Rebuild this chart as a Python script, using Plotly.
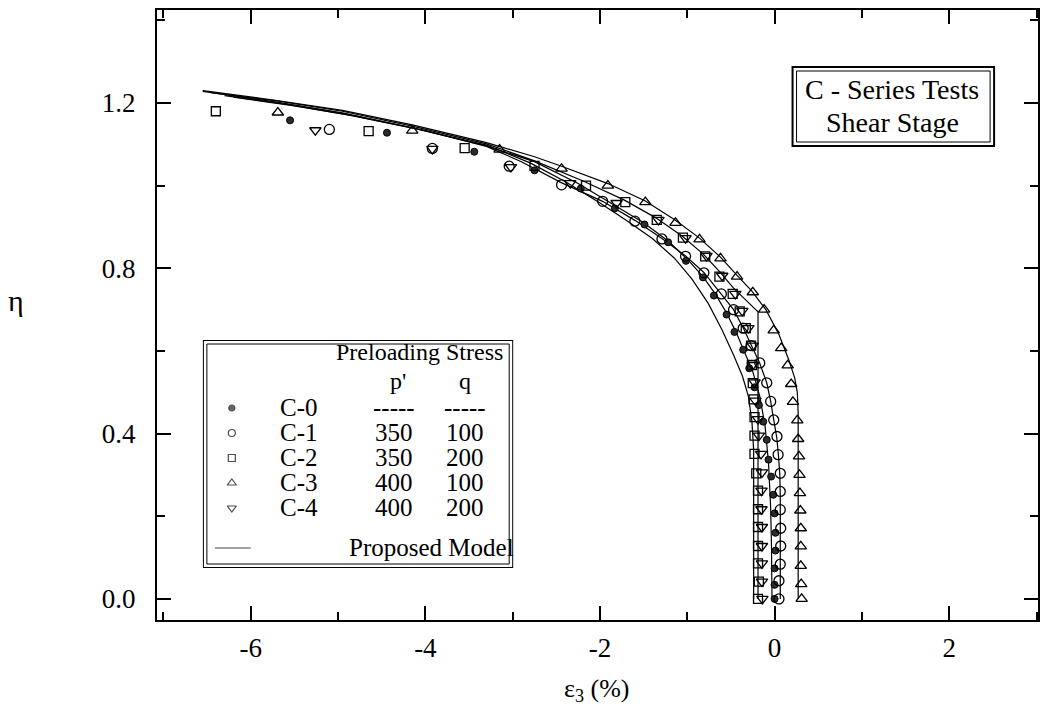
import plotly.graph_objects as go

# ---- measured data: eta vs eps3 (%) for each test ----
c0_x = [-5.55, -4.44, -3.44, -2.75, -2.22, -1.83, -1.49, -1.22, -1.015, -0.82, -0.695, -0.55, -0.46, -0.36,
        -0.29, -0.23, -0.18, -0.13, -0.09, -0.07, -0.04, -0.015, 0.0, 0.01, 0.01, 0.0, 0.0, 0.0]
c0_y = [1.158, 1.128, 1.082, 1.037, 0.993, 0.945, 0.906, 0.863, 0.818, 0.778, 0.734, 0.688, 0.646, 0.603,
        0.558, 0.512, 0.469, 0.429, 0.385, 0.337, 0.296, 0.252, 0.207, 0.160, 0.117, 0.074, 0.034, 0.0]

c1_x = [-5.10, -3.92, -3.04, -2.44, -1.97, -1.60, -1.29, -1.02, -0.81, -0.61, -0.47, -0.36, -0.27, -0.17,
        -0.09, -0.045, -0.01, 0.027, 0.04, 0.065, 0.065, 0.065, 0.07, 0.07, 0.065, 0.05, 0.05]
c1_y = [1.136, 1.090, 1.047, 1.002, 0.962, 0.914, 0.871, 0.829, 0.789, 0.738, 0.700, 0.655, 0.613, 0.571,
        0.523, 0.478, 0.433, 0.393, 0.349, 0.304, 0.260, 0.216, 0.171, 0.128, 0.084, 0.044, 0.0]

c2_x = [-6.40, -4.65, -3.55, -2.75, -2.16, -1.71, -1.35, -1.05, -0.795, -0.632, -0.48, -0.40, -0.33, -0.27,
        -0.26, -0.25, -0.24, -0.23, -0.23, -0.23, -0.21, -0.19, -0.19, -0.19, -0.19, -0.19, -0.18, -0.19]
c2_y = [1.180, 1.132, 1.091, 1.048, 1.000, 0.960, 0.917, 0.874, 0.829, 0.780, 0.738, 0.696, 0.655, 0.613,
        0.566, 0.522, 0.483, 0.440, 0.395, 0.351, 0.304, 0.262, 0.217, 0.174, 0.128, 0.086, 0.042, 0.0]

c3_x = [-5.69, -4.15, -3.15, -2.44, -1.91, -1.48, -1.135, -0.86, -0.62, -0.43, -0.25, -0.12, -0.01, 0.076,
        0.15, 0.19, 0.21, 0.26, 0.27, 0.28, 0.285, 0.29, 0.295, 0.30, 0.30, 0.30, 0.305, 0.31]
c3_y = [1.177, 1.133, 1.087, 1.041, 1.000, 0.960, 0.910, 0.870, 0.824, 0.780, 0.742, 0.700, 0.650, 0.607,
        0.565, 0.520, 0.477, 0.432, 0.387, 0.345, 0.300, 0.256, 0.214, 0.171, 0.127, 0.080, 0.036, 0.0]

c4_x = [-5.26, -3.92, -3.02, -2.34, -1.81, -1.33, -1.02, -0.78, -0.60, -0.45, -0.37, -0.30, -0.25, -0.25,
        -0.23, -0.22, -0.19, -0.18, -0.155, -0.145, -0.15, -0.15, -0.145, -0.145, -0.145, -0.145, -0.14]
c4_y = [1.134, 1.089, 1.045, 1.006, 0.958, 0.917, 0.873, 0.830, 0.782, 0.738, 0.697, 0.655, 0.613, 0.566,
        0.524, 0.480, 0.435, 0.395, 0.351, 0.306, 0.262, 0.217, 0.174, 0.128, 0.086, 0.042, 0.0]

# ---- proposed model curves ----
ma_x = [-6.55, -5.7, -4.95, -4.15, -3.3, -2.8, -2.4, -2.0, -1.7, -1.4, -1.15, -0.95, -0.76, -0.6, -0.47,
        -0.37, -0.3, -0.26, -0.24, -0.24]
ma_y = [1.228, 1.202, 1.176, 1.140, 1.098, 1.055, 1.010, 0.958, 0.916, 0.872, 0.825, 0.775, 0.715, 0.650,
        0.590, 0.540, 0.490, 0.430, 0.360, 0.0]

mb_x = [-6.3, -5.6, -4.9, -4.1, -3.3, -2.75, -2.25, -1.85, -1.5, -1.22, -1.0, -0.82, -0.68, -0.55, -0.44,
        -0.35, -0.25, -0.17, -0.11, -0.07, -0.045, -0.035, -0.03]
mb_y = [1.218, 1.197, 1.172, 1.137, 1.096, 1.058, 1.005, 0.955, 0.910, 0.866, 0.822, 0.780, 0.738, 0.692,
        0.645, 0.600, 0.550, 0.490, 0.420, 0.330, 0.220, 0.120, 0.0]

mc_x = [-6.45, -5.7, -4.95, -4.15, -3.3, -2.75, -2.2, -1.72, -1.36, -1.06, -0.82, -0.63, -0.47, -0.33,
        -0.24, -0.19, -0.19]
mc_y = [1.225, 1.205, 1.180, 1.144, 1.101, 1.060, 1.012, 0.965, 0.922, 0.878, 0.835, 0.792, 0.752, 0.722,
        0.705, 0.695, 0.0]

md_x = [-6.2, -5.5, -4.8, -4.0, -3.3, -2.9, -2.45, -1.97, -1.6, -1.29, -1.02, -0.81, -0.62, -0.47, -0.36,
        -0.26, -0.17, -0.09, -0.045, -0.01, 0.025, 0.045, 0.06, 0.065, 0.065]
md_y = [1.214, 1.193, 1.168, 1.133, 1.095, 1.058, 1.008, 0.962, 0.916, 0.872, 0.830, 0.790, 0.740, 0.700,
        0.656, 0.612, 0.570, 0.523, 0.478, 0.433, 0.390, 0.345, 0.300, 0.250, 0.0]

me_x = [-6.55, -5.7, -4.95, -4.15, -3.3, -2.75, -2.44, -1.91, -1.48, -1.14, -0.86, -0.62, -0.43, -0.26,
        -0.10, 0.05, 0.16, 0.23, 0.26, 0.27, 0.27]
me_y = [1.230, 1.206, 1.182, 1.147, 1.104, 1.070, 1.047, 1.005, 0.963, 0.917, 0.873, 0.827, 0.783, 0.745,
        0.700, 0.640, 0.580, 0.535, 0.500, 0.450, 0.0]

# ---- tick labels ----
x_tick_vals = [-6, -4, -2, 0, 2]
x_tick_text = ["-6", "-4", "-2", "0", "2"]
y_tick_vals = [0.0, 0.4, 0.8, 1.2]
y_tick_text = ["0.0", "0.4", "0.8", "1.2"]

# ---- legend table text ----
test_names = ["C-0", "C-1", "C-2", "C-3", "C-4"]
pre_p = ["-----", "350", "350", "400", "400"]
pre_q = ["-----", "100", "200", "100", "200"]

FONT = "Liberation Serif, Times New Roman, DejaVu Serif, serif"
INK = "black"

# marker styles per test
styles = [
    dict(symbol="circle", size=7, color="#2b2b2b", line=dict(color=INK, width=1)),
    dict(symbol="circle-open", size=10, color=INK, line=dict(width=1.3)),
    dict(symbol="square-open", size=9, color=INK, line=dict(width=1.3)),
    dict(symbol="triangle-up-open", size=10, color=INK, line=dict(width=1.3)),
    dict(symbol="triangle-down-open", size=10, color=INK, line=dict(width=1.3)),
]
legend_styles = [
    dict(symbol="circle", size=6, color="#2b2b2b"),
    dict(symbol="circle-open", size=7, color=INK),
    dict(symbol="square-open", size=7, color=INK),
    dict(symbol="triangle-up-open", size=8, color=INK),
    dict(symbol="triangle-down-open", size=8, color=INK),
]

fig = go.Figure()

for mx, my in [(ma_x, ma_y), (mb_x, mb_y), (mc_x, mc_y), (md_x, md_y), (me_x, me_y)]:
    fig.add_trace(go.Scatter(x=mx, y=my, mode="lines", line=dict(color=INK, width=1.2),
                             showlegend=False, hoverinfo="skip"))

series = [(c0_x, c0_y), (c1_x, c1_y), (c2_x, c2_y), (c3_x, c3_y), (c4_x, c4_y)]
for (sx, sy), st, nm in zip(series, styles, test_names):
    fig.add_trace(go.Scatter(x=sx, y=sy, mode="markers", marker=st, name=nm, showlegend=False))

# ---- plot area geometry (pixels) ----
W, H = 1045, 713
L, R, T, B = 157, 5, 10, 93
PW, PH = W - L - R, H - T - B


def px_x(p):
    return (p - L) / PW


def px_y(p):
    return (H - B - p) / PH


# legend panel drawn on a helper axis measured in pixels
LB = dict(x0=203, x1=514, y0=340, y1=568)
row_y = [408, 433, 458, 483, 508]
key_x = 232
fig.add_trace(go.Scatter(x=[key_x] * 5, y=row_y, mode="markers", xaxis="x2", yaxis="y2",
                         marker=dict(symbol=[s["symbol"] for s in legend_styles],
                                     size=[s["size"] for s in legend_styles],
                                     color=[s["color"] for s in legend_styles],
                                     line=dict(color=INK, width=1.2)),
                         showlegend=False, hoverinfo="skip"))
fig.add_trace(go.Scatter(x=[215, 251], y=[548, 548], mode="lines", xaxis="x2", yaxis="y2",
                         line=dict(color="#444", width=1), showlegend=False, hoverinfo="skip"))

shapes = []
# double border, legend panel
shapes.append(dict(type="rect", xref="x2", yref="y2", x0=LB["x0"], x1=LB["x1"], y0=LB["y0"], y1=LB["y1"],
                   line=dict(color=INK, width=2)))
shapes.append(dict(type="rect", xref="x2", yref="y2", x0=LB["x0"] + 4, x1=LB["x1"] - 4,
                   y0=LB["y0"] + 4, y1=LB["y1"] - 4, line=dict(color=INK, width=1)))
# double border, series caption
shapes.append(dict(type="rect", xref="paper", yref="paper", x0=px_x(794), x1=px_x(996),
                   y0=px_y(146), y1=px_y(67), line=dict(color=INK, width=2)))
shapes.append(dict(type="rect", xref="paper", yref="paper", x0=px_x(798), x1=px_x(992),
                   y0=px_y(142), y1=px_y(71), line=dict(color=INK, width=1)))

ann = []


def lab(x, y, text, size=25, ref="x2"):
    return dict(x=x, y=y, xref=ref, yref=ref.replace("x", "y"), text=text, showarrow=False,
                font=dict(family=FONT, size=size, color=INK), xanchor="center", yanchor="middle")


def plab(x, y, text, size):
    return dict(x=px_x(x), y=px_y(y), xref="paper", yref="paper", text=text, showarrow=False,
                font=dict(family=FONT, size=size, color=INK), xanchor="center", yanchor="middle")


ann.append(lab(420, 352, "Preloading Stress", 24))
ann.append(lab(399, 381, "p'", 24))
ann.append(lab(466, 381, "q", 24))
for i in range(5):
    ann.append(lab(299, row_y[i], test_names[i]))
    ann.append(lab(395, row_y[i], pre_p[i]))
    ann.append(lab(466, row_y[i], pre_q[i]))
ann.append(lab(432, 547, "Proposed Model"))

ann.append(plab(894, 89, "C - Series Tests", 28))
ann.append(plab(894, 122, "Shear Stage", 28))
# axis titles
ann.append(plab(16, 300, "η", 30))
ann.append(plab(598, 690, "ε<sub>3</sub> (%)", 26))

axis_common = dict(showline=True, linewidth=2, linecolor=INK, mirror="ticks", ticks="inside",
                   ticklen=14, tickwidth=1.5, tickcolor=INK, showgrid=False, zeroline=False,
                   tickfont=dict(family=FONT, size=27, color=INK))

fig.update_layout(
    width=W, height=H,
    margin=dict(l=L, r=R, t=T, b=B),
    paper_bgcolor="white", plot_bgcolor="white",
    showlegend=False,
    xaxis=dict(range=[-7.074, 3.017], tickmode="array", tickvals=x_tick_vals, ticktext=x_tick_text,
               ticklabelstandoff=3,
               minor=dict(ticks="inside", ticklen=8, tickwidth=1.5, tickmode="linear", tick0=0, dtick=1,
                          tickcolor=INK),
               **axis_common),
    yaxis=dict(range=[-0.051, 1.425], tickmode="array", tickvals=y_tick_vals, ticktext=y_tick_text,
               ticklabelstandoff=14,
               minor=dict(ticks="inside", ticklen=8, tickwidth=1.5, tickmode="linear", tick0=0, dtick=0.2,
                          tickcolor=INK),
               **axis_common),
    xaxis2=dict(domain=[px_x(LB["x0"]), px_x(LB["x1"])], range=[LB["x0"], LB["x1"]], anchor="y2",
                visible=False, fixedrange=True),
    yaxis2=dict(domain=[px_y(LB["y1"]), px_y(LB["y0"])], range=[LB["y1"], LB["y0"]], anchor="x2",
                visible=False, fixedrange=True),
    shapes=shapes,
    annotations=ann,
)

fig.write_html("out.html")
